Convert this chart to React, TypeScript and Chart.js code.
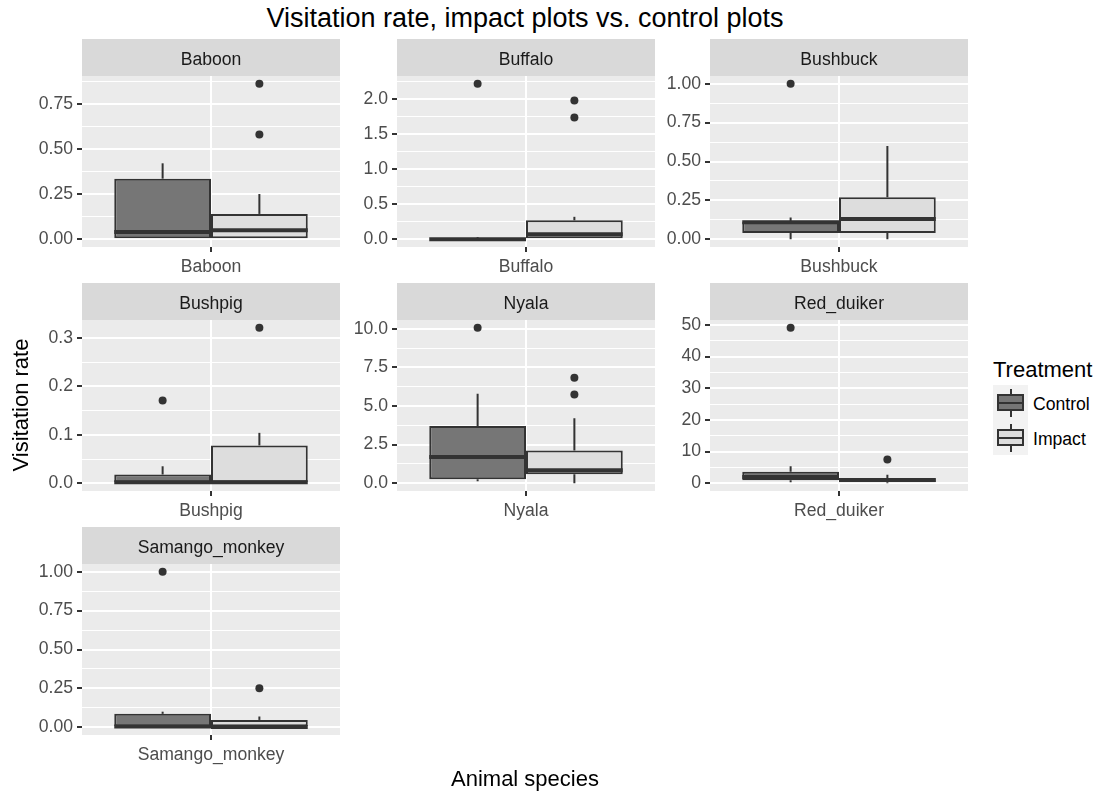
import React, { useEffect, useRef } from 'react';
import { Chart, registerables } from 'chart.js';

Chart.register(...registerables);

const FONT = "'Liberation Sans', Arial, Helvetica, sans-serif";
Chart.defaults.font.family = FONT;

// ---- data -------------------------------------------------------------
const species = ['Baboon', 'Buffalo', 'Bushbuck', 'Bushpig', 'Nyala', 'Red_duiker', 'Samango_monkey'];
const treatments = ['Control', 'Impact'];
const treatmentFill = ['#767676', '#DDDDDD'];

// Control plots: box-plot statistics per species
const controlLower = [0, 0, 0, 0, 0.13, 0.3, 0];
const controlQ1 = [0, 0, 0.04, 0, 0.26, 0.95, 0];
const controlMedian = [0.04, 0, 0.11, 0.002, 1.69, 2.0, 0.005];
const controlQ3 = [0.335, 0.01, 0.113, 0.018, 3.71, 3.6, 0.086];
const controlUpper = [0.42, 0.03, 0.14, 0.035, 5.79, 5.4, 0.1];
const controlOutliers = [[], [2.22], [1.0], [0.171], [10.06], [49.1], [1.0]];

// Impact plots: box-plot statistics per species
const impactLower = [0, 0, 0, 0, 0, 0, 0];
const impactQ1 = [0, 0, 0.04, 0, 0.58, 0.3, 0];
const impactMedian = [0.05, 0.07, 0.13, 0.002, 0.84, 1.0, 0.002];
const impactQ3 = [0.14, 0.27, 0.27, 0.078, 2.11, 1.6, 0.047];
const impactUpper = [0.25, 0.32, 0.6, 0.104, 4.21, 2.7, 0.069];
const impactOutliers = [[0.58, 0.86], [1.74, 1.98], [], [0.321], [5.74, 6.82], [7.5], [0.25]];

// y axis breaks per facet
const yTickValues = [
  [0, 0.25, 0.5, 0.75],
  [0, 0.5, 1, 1.5, 2],
  [0, 0.25, 0.5, 0.75, 1],
  [0, 0.1, 0.2, 0.3],
  [0, 2.5, 5, 7.5, 10],
  [0, 10, 20, 30, 40, 50],
  [0, 0.25, 0.5, 0.75, 1],
];
const yTickLabels = [
  ['0.00', '0.25', '0.50', '0.75'],
  ['0.0', '0.5', '1.0', '1.5', '2.0'],
  ['0.00', '0.25', '0.50', '0.75', '1.00'],
  ['0.0', '0.1', '0.2', '0.3'],
  ['0.0', '2.5', '5.0', '7.5', '10.0'],
  ['0', '10', '20', '30', '40', '50'],
  ['0.00', '0.25', '0.50', '0.75', '1.00'],
];

// ---- layout -----------------------------------------------------------
const COL_LEFT = [82, 397, 710];
const ROW_TOP = [39, 283, 527];
const PANEL_W = 258;
const STRIP_H = 37;
const PLOT_H = 171;
const AXIS_W = 72;
const AXIS_H = 36;
const INK = '#333333';

type BoxStats = { lo: number; q1: number; med: number; q3: number; hi: number; out: number[] };

function statsFor(i: number): BoxStats[] {
  return [
    { lo: controlLower[i], q1: controlQ1[i], med: controlMedian[i], q3: controlQ3[i], hi: controlUpper[i], out: controlOutliers[i] },
    { lo: impactLower[i], q1: impactQ1[i], med: impactMedian[i], q3: impactQ3[i], hi: impactUpper[i], out: impactOutliers[i] },
  ];
}

function Panel({ index }: { index: number }) {
  const ref = useRef<HTMLCanvasElement>(null);

  useEffect(() => {
    const canvas = ref.current;
    if (!canvas) return;
    const stats = statsFor(index);

    // data range with ggplot-style 5% expansion
    const values: number[] = [];
    stats.forEach((s) => values.push(s.lo, s.q1, s.med, s.q3, s.hi, ...s.out));
    const dMin = Math.min(...values);
    const dMax = Math.max(...values);
    const pad = (dMax - dMin) * 0.05;
    const yMin = dMin - pad;
    const yMax = dMax + pad;

    // major + minor breaks
    const majors = yTickValues[index];
    const step = majors[1] - majors[0];
    const ticks: { value: number; isMajor: boolean; text: string }[] = majors.map((v, k) => ({
      value: v,
      isMajor: true,
      text: yTickLabels[index][k],
    }));
    for (let k = -1; k < majors.length; k++) {
      const v = majors[0] + (k + 0.5) * step;
      if (v > yMin && v < yMax) ticks.push({ value: v, isMajor: false, text: '' });
    }
    ticks.sort((a, b) => a.value - b.value);

    const panelPlugin = {
      id: 'facetPanel',
      beforeDraw(chart: any) {
        const { ctx, chartArea: a } = chart;
        ctx.save();
        ctx.fillStyle = '#D9D9D9';
        ctx.fillRect(a.left, a.top - STRIP_H, a.right - a.left, STRIP_H);
        ctx.fillStyle = '#EBEBEB';
        ctx.fillRect(a.left, a.top, a.right - a.left, a.bottom - a.top);
        ctx.fillStyle = '#1A1A1A';
        ctx.font = `17.6px ${FONT}`;
        ctx.textAlign = 'center';
        ctx.textBaseline = 'middle';
        ctx.fillText(species[index], (a.left + a.right) / 2, a.top - STRIP_H / 2 + 3);
        ctx.restore();
      },
    };

    const boxPlugin = {
      id: 'boxParts',
      afterDatasetsDraw(chart: any) {
        const { ctx } = chart;
        const y = chart.scales.y;
        stats.forEach((s, di) => {
          const el = chart.getDatasetMeta(di).data[0];
          if (!el) return;
          const { x, width } = el.getProps(['x', 'width'], true);
          ctx.save();
          ctx.strokeStyle = INK;
          ctx.lineCap = 'butt';
          ctx.lineWidth = 2;
          ctx.beginPath();
          ctx.moveTo(x, y.getPixelForValue(s.q3));
          ctx.lineTo(x, y.getPixelForValue(s.hi));
          ctx.moveTo(x, y.getPixelForValue(s.q1));
          ctx.lineTo(x, y.getPixelForValue(s.lo));
          ctx.stroke();
          ctx.lineWidth = 4;
          const ym = y.getPixelForValue(s.med);
          ctx.beginPath();
          ctx.moveTo(x - width / 2, ym);
          ctx.lineTo(x + width / 2, ym);
          ctx.stroke();
          ctx.fillStyle = INK;
          s.out.forEach((v) => {
            ctx.beginPath();
            ctx.arc(x, y.getPixelForValue(v), 4, 0, Math.PI * 2);
            ctx.fill();
          });
          ctx.restore();
        });
      },
    };

    const chart = new Chart(canvas, {
      type: 'bar',
      data: {
        labels: [species[index]],
        datasets: stats.map((s, di) => ({
          label: treatments[di],
          data: [[s.q1, s.q3]] as any,
          backgroundColor: treatmentFill[di],
          borderColor: INK,
          borderWidth: 2,
          borderSkipped: false,
          categoryPercentage: 0.75,
          barPercentage: 1,
        })),
      },
      options: {
        animation: false,
        responsive: false,
        events: [],
        layout: { padding: { top: STRIP_H, left: 0, right: 1, bottom: 0 } },
        plugins: { legend: { display: false }, tooltip: { enabled: false }, title: { display: false } },
        scales: {
          x: {
            type: 'category',
            offset: true,
            border: { display: false },
            grid: {
              offset: false,
              color: '#FFFFFF',
              lineWidth: 2,
              tickColor: INK,
              tickLength: 5,
              tickWidth: 2,
            },
            ticks: {
              color: '#4D4D4D',
              font: { size: 17.6, family: FONT },
              padding: 5,
              maxRotation: 0,
              autoSkip: false,
            },
            afterFit: (scale: any) => {
              scale.height = AXIS_H;
            },
          },
          y: {
            type: 'linear',
            min: yMin,
            max: yMax,
            border: { display: false },
            grid: {
              color: '#FFFFFF',
              lineWidth: (c: any) => (c.tick && c.tick.isMajor ? 2 : 1),
              tickColor: (c: any) => (c.tick && c.tick.isMajor ? INK : 'rgba(0,0,0,0)'),
              tickLength: 5,
              tickWidth: 2,
            },
            ticks: {
              color: '#4D4D4D',
              font: { size: 17.6, family: FONT },
              padding: 4,
              autoSkip: false,
              callback: (_v: any, i: number, t: any[]) => t[i].text,
            },
            afterBuildTicks: (scale: any) => {
              scale.ticks = ticks.map((t) => ({ ...t }));
            },
            afterFit: (scale: any) => {
              scale.width = AXIS_W;
            },
          },
        },
      } as any,
      plugins: [panelPlugin, boxPlugin],
    });

    return () => chart.destroy();
  }, [index]);

  const col = index % 3;
  const row = Math.floor(index / 3);
  return (
    <canvas
      ref={ref}
      width={AXIS_W + PANEL_W + 1}
      height={STRIP_H + PLOT_H + AXIS_H}
      style={{ position: 'absolute', left: COL_LEFT[col] - AXIS_W, top: ROW_TOP[row] }}
    />
  );
}

function LegendKey({ fill, top }: { fill: string; top: number }) {
  const K = 35;
  return (
    <div style={{ position: 'absolute', left: 993, top, width: K, height: K, background: '#F2F2F2' }}>
      <div style={{ position: 'absolute', left: 16.5, top: 3.5, width: 2, height: 5.5, background: INK }} />
      <div style={{ position: 'absolute', left: 16.5, top: 26, width: 2, height: 5.5, background: INK }} />
      <div
        style={{
          position: 'absolute',
          left: 4.4,
          top: 8.75,
          width: 26.25,
          height: 17.5,
          boxSizing: 'border-box',
          border: `2px solid ${INK}`,
          background: fill,
        }}
      />
      <div style={{ position: 'absolute', left: 4.4, top: 16.5, width: 26.25, height: 2, background: INK }} />
    </div>
  );
}

export default function App() {
  const gridLeft = COL_LEFT[0];
  const gridRight = COL_LEFT[2] + PANEL_W;
  return (
    <div
      style={{
        position: 'absolute',
        left: 0,
        top: 0,
        width: 1100,
        height: 792,
        overflow: 'hidden',
        background: '#FFFFFF',
        fontFamily: FONT,
        color: '#000000',
      }}
    >
      <div
        style={{
          position: 'absolute',
          left: gridLeft,
          width: gridRight - gridLeft,
          top: 5,
          fontSize: 27,
          lineHeight: '27px',
          textAlign: 'center',
          whiteSpace: 'nowrap',
        }}
      >
        Visitation rate, impact plots vs. control plots
      </div>

      {species.map((_, i) => (
        <Panel key={species[i]} index={i} />
      ))}

      <div
        style={{
          position: 'absolute',
          left: gridLeft,
          width: gridRight - gridLeft,
          top: 768,
          fontSize: 22,
          lineHeight: '22px',
          textAlign: 'center',
          whiteSpace: 'nowrap',
        }}
      >
        Animal species
      </div>

      <div
        style={{
          position: 'absolute',
          left: 21 - 100,
          top: 405 - 11,
          width: 200,
          height: 22,
          fontSize: 22,
          lineHeight: '22px',
          textAlign: 'center',
          whiteSpace: 'nowrap',
          transform: 'rotate(-90deg)',
          transformOrigin: '50% 50%',
        }}
      >
        Visitation rate
      </div>

      <div style={{ position: 'absolute', left: 993, top: 359, fontSize: 22, lineHeight: '22px', whiteSpace: 'nowrap' }}>
        Treatment
      </div>
      {treatments.map((t, i) => (
        <React.Fragment key={t}>
          <LegendKey fill={treatmentFill[i]} top={385 + i * 35} />
          <div
            style={{
              position: 'absolute',
              left: 1033,
              top: 385 + i * 35 + 2,
              height: 35,
              fontSize: 17.6,
              lineHeight: '35px',
              whiteSpace: 'nowrap',
            }}
          >
            {t}
          </div>
        </React.Fragment>
      ))}
    </div>
  );
}
